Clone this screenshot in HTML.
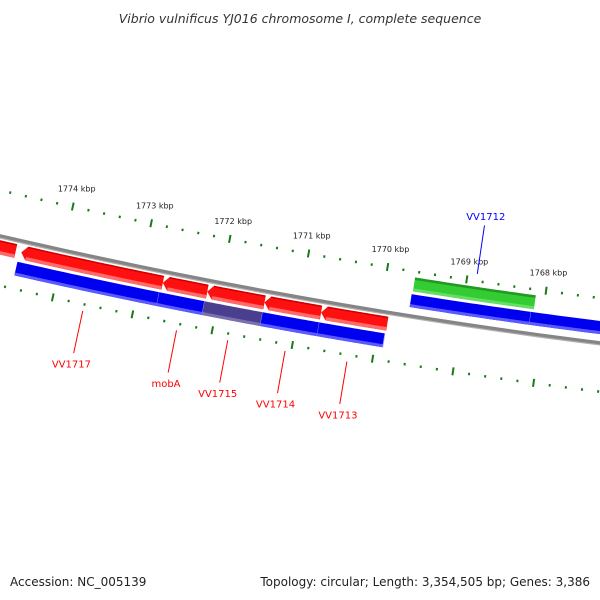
<!DOCTYPE html>
<html><head><meta charset="utf-8">
<style>
html,body{margin:0;padding:0;background:#fff;}
svg{display:block;font-family:"DejaVu Sans","Liberation Sans",sans-serif;}
</style></head>
<body>
<svg id="map" width="600" height="600" viewBox="0 0 600 600" xmlns="http://www.w3.org/2000/svg">
  <rect width="600" height="600" fill="#fff"/>
  <text x="300" y="23" text-anchor="middle" font-size="12.5" font-style="italic" fill="#333">Vibrio vulnificus YJ016 chromosome I, complete sequence</text>
  <text x="10" y="586" font-size="12" fill="#222">Accession: NC_005139</text>
  <text x="590" y="586" text-anchor="end" font-size="12" fill="#222">Topology: circular; Length: 3,354,505 bp; Genes: 3,386</text>
  <g id="plot"></g>
</svg>
<script>
// ---- data (kbp) ----
const majorTicks = [1767, 1768, 1769, 1770, 1771, 1772, 1773, 1774, 1775, 1776];
const tickLabels = ["1767 kbp","1768 kbp","1769 kbp","1770 kbp","1771 kbp","1772 kbp","1773 kbp","1774 kbp","",""];
const redStarts = [1774.57, 1772.71, 1772.15, 1771.43, 1770.72, 1769.89];
const redEnds   = [1776.00, 1774.50, 1772.71, 1772.15, 1771.43, 1770.72];
const redNames  = ["", "VV1717", "mobA", "VV1715", "VV1714", "VV1713"];
const blueOuterStarts = [1772.73, 1772.16, 1771.43, 1770.72, 1769.90];
const blueOuterEnds   = [1774.52, 1772.73, 1772.16, 1771.43, 1770.72];
const blueOuterOverlap = [false, false, true, false, false];
const greenStarts = [1768.12];
const greenEnds   = [1769.64];
const greenNames  = ["VV1712"];
const blueInnerStarts = [1768.15, 1765.50];
const blueInnerEnds   = [1769.65, 1768.15];

// ---- geometry / axis ----
const CX = 1334, CY = -5509;
const PHI0 = -0.16241, DPHI = 0.013693, K0 = 1770;
function ang(k){ return PHI0 - (k - K0) * DPHI; }
function pt(k, r){ const a = ang(k); return [CX + r*Math.sin(a), CY + r*Math.cos(a)]; }
const NS = "http://www.w3.org/2000/svg";
const plot = document.getElementById('plot');
function mk(tag, attrs){ const e = document.createElementNS(NS, tag); for (const a in attrs) e.setAttribute(a, attrs[a]); plot.appendChild(e); return e; }
function bandPts(k1, k2, r1, r2){
  const n = 24, p = [];
  for (let i=0;i<=n;i++){ p.push(pt(k1+(k2-k1)*i/n, r1)); }
  for (let i=n;i>=0;i--){ p.push(pt(k1+(k2-k1)*i/n, r2)); }
  return p.map(q=>q[0].toFixed(2)+','+q[1].toFixed(2)).join(' ');
}
function band(k1,k2,r1,r2,fill,name){
  const e = mk('polygon',{points:bandPts(k1,k2,r1,r2),fill:fill});
  
  
  return e;
}
function arrowGene(k1,k2,r1,r2,fill,name){
  const head = 0.07, n = 20, p = [];
  const kb = Math.max(k1, k2 - head), rm = (r1+r2)/2;
  for (let i=0;i<=n;i++) p.push(pt(k1+(kb-k1)*i/n, r1));
  p.push(pt(k2, rm));
  for (let i=n;i>=0;i--) p.push(pt(k1+(kb-k1)*i/n, r2));
  const e = mk('polygon',{points:p.map(q=>q[0].toFixed(2)+','+q[1].toFixed(2)).join(' '),fill:fill});
  
  
  return e;
}
function line(k,ra,rb,color,w,name){
  const a = pt(k,ra), b = pt(k,rb);
  const e = mk('line',{x1:a[0],y1:a[1],x2:b[0],y2:b[1],stroke:color,'stroke-width':w});
  
  
  return e;
}
function label(k,r,txt,color,size,name,inter){
  const p = pt(k,r);
  const e = mk('text',{x:p[0].toFixed(1),y:(p[1]+size*0.35).toFixed(1),'text-anchor':'middle','font-size':size,fill:color});
  e.textContent = txt;
  
  
  return e;
}

// ---- backbone ----
band(1765, 1777, 5896, 5900, '#858585', 'backbone');
band(1765, 1777, 5899.2, 5900.4, '#b0b0b0', 'backbone-highlight');

// ---- ticks ----
for (let i=0;i<majorTicks.length;i++){
  const k = majorTicks[i];
  line(k, 5849, 5857, '#1a7a1a', 2, 'tick-major-top');
  line(k, 5942, 5950, '#1a7a1a', 2, 'tick-major-bottom');
  if (tickLabels[i]) label(k, 5835, tickLabels[i], '#222', 8, 'tick-label', false);
  if (i < majorTicks.length-1){
    for (let j=1;j<5;j++){
      line(k + j*0.2, 5852, 5854.5, '#1a7a1a', 2, 'tick-minor-top');
      line(k + j*0.2, 5945, 5947.5, '#1a7a1a', 2, 'tick-minor-bottom');
    }
  }
}

// ---- outer red genes ----
for (let i=0;i<redStarts.length;i++){
  const nm = redNames[i] ? 'gene-' + redNames[i].toLowerCase() : 'gene-partial';
  arrowGene(redStarts[i], redEnds[i], 5902, 5916, '#ff1010', nm);
  band(redStarts[i]+0.005, redEnds[i]-0.07, 5912.5, 5916, '#ff6a6a', nm + '-shade');
  band(redStarts[i]+0.005, redEnds[i]-0.07, 5902, 5903.5, '#d00000', nm + '-edge');
  if (redNames[i]){
    const km = (redStarts[i]+redEnds[i])/2;
    line(km, 5953, 5996, '#ff0000', 1, 'label-line-' + redNames[i].toLowerCase());
    label(km, 6007, redNames[i], '#ff0000', 10, 'gene-label-' + redNames[i].toLowerCase(), true);
  }
}
// ---- outer blue ring ----
for (let i=0;i<blueOuterStarts.length;i++){
  const c = blueOuterOverlap[i] ? '#4a3f8f' : '#0000f0';
  const c2 = blueOuterOverlap[i] ? '#7a70b0' : '#5a5aff';
  band(blueOuterStarts[i], blueOuterEnds[i], 5919, 5933, c, 'cds-outer-' + i);
  band(blueOuterStarts[i], blueOuterEnds[i], 5930, 5933, c2, 'cds-outer-shade-' + i);
  line(blueOuterStarts[i], 5919, 5933, '#9aa0ff', 0.8, 'cds-outer-divider');
}
// ---- inner green ----
for (let i=0;i<greenStarts.length;i++){
  band(greenStarts[i], greenEnds[i], 5859, 5873, '#33cc33', 'gene-' + greenNames[i].toLowerCase());
  band(greenStarts[i], greenEnds[i], 5859, 5861.5, '#229922', 'gene-edge-' + greenNames[i].toLowerCase());
  band(greenStarts[i], greenEnds[i], 5870, 5873, '#66dd66', 'gene-shade-' + greenNames[i].toLowerCase());
  const km = (greenStarts[i]+greenEnds[i])/2;
  line(km, 5846, 5797, '#0000ff', 1, 'label-line-' + greenNames[i].toLowerCase());
  label(km, 5788, greenNames[i], '#0000ff', 10, 'gene-label-' + greenNames[i].toLowerCase(), true);
}
// ---- inner blue ring ----
for (let i=0;i<blueInnerStarts.length;i++){
  band(blueInnerStarts[i], blueInnerEnds[i], 5876, 5889, '#0000f0', 'cds-inner-' + i);
  band(blueInnerStarts[i], blueInnerEnds[i], 5886, 5889, '#5a5aff', 'cds-inner-shade-' + i);
  line(blueInnerStarts[i], 5876, 5889, '#9aa0ff', 0.8, 'cds-inner-divider');
}
</script>
</body></html>
